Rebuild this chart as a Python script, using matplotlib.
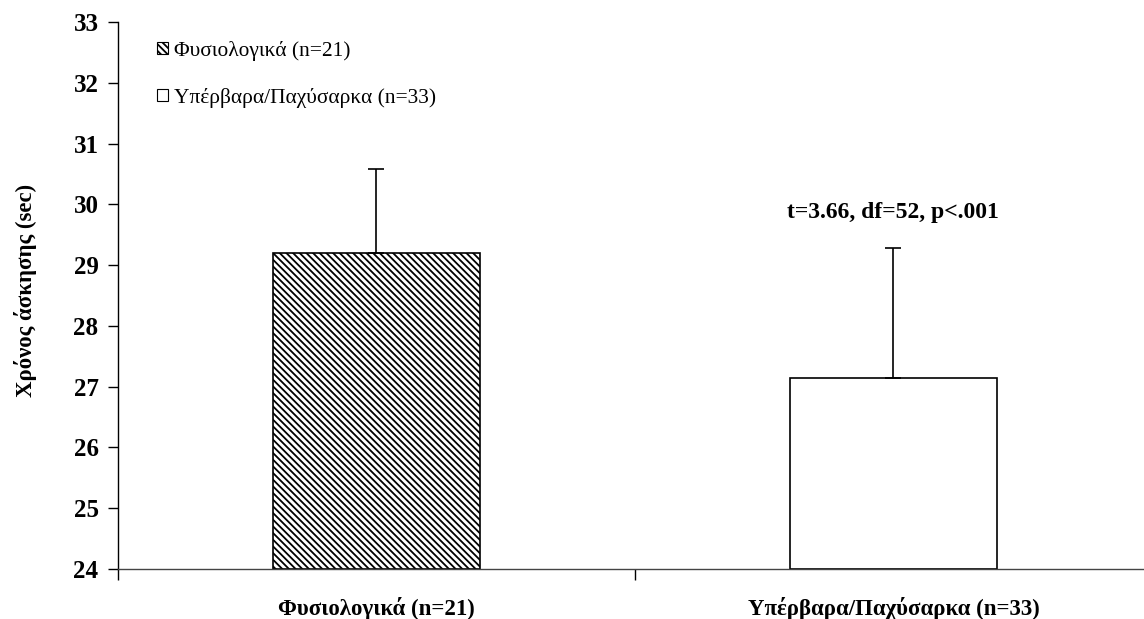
import matplotlib
matplotlib.use("Agg")
import matplotlib.pyplot as plt
from matplotlib.patches import Patch

plt.rcParams['font.family'] = ['Liberation Serif', 'DejaVu Serif']
plt.rcParams['hatch.linewidth'] = 1.3

categories = ["Φυσιολογικά (n=21)", "Υπέρβαρα/Παχύσαρκα (n=33)"]
means = [29.2, 27.15]
sd_upper = [1.38, 2.13]
y_ticks = [24, 25, 26, 27, 28, 29, 30, 31, 32, 33]
annotation = "t=3.66, df=52, p<.001"
ylabel = "Χρόνος άσκησης (sec)"

HATCH = '\\' * 5

fig = plt.figure(figsize=(11.44, 6.19), dpi=100)
ax = fig.add_axes([0.1031, 0.0808, 0.9038, 0.8837])

x = list(range(len(categories)))
bars = ax.bar(x, [m - 24 for m in means], bottom=24, width=0.40,
              color='white', edgecolor='black', linewidth=1.2)
bars[0].set_hatch(HATCH)
ax.errorbar(x, means, yerr=[[0, 0], sd_upper], fmt='none', ecolor='black',
            elinewidth=1.2, capsize=6, capthick=1.2)

ax.set_xlim(-0.5, 1.5)
ax.set_ylim(24, 33)
ax.set_yticks(y_ticks)
ax.set_yticklabels([str(v) for v in y_ticks], fontsize=18, fontweight='bold')
ax.set_xticks(x)
ax.set_xticklabels(categories, fontsize=16.5, fontweight='bold')
ax.tick_params(axis='x', which='major', length=0, pad=20)
ax.set_xticks([-0.5, 0.5, 1.5], minor=True)
ax.tick_params(axis='x', which='minor', length=8, width=1, direction='out')
ax.tick_params(axis='y', length=7, width=1, direction='out', pad=7)

for s in ['top', 'right']:
    ax.spines[s].set_visible(False)
ax.spines['left'].set_linewidth(1)
ax.spines['bottom'].set_linewidth(1)
ax.spines['bottom'].set_color('#444444')

ax.set_ylabel(ylabel, fontsize=16.5, fontweight='bold')
ax.yaxis.set_label_coords(-0.078, 0.51)

ax.text(1, 29.87, annotation, ha='center', va='center', fontsize=17, fontweight='bold')

handles = [Patch(facecolor='white', edgecolor='black', hatch=HATCH, linewidth=0.8),
           Patch(facecolor='white', edgecolor='black', linewidth=0.8)]
ax.legend(handles, categories, loc='upper left', bbox_to_anchor=(0.019, 1.0005),
          frameon=False, fontsize=15.4, handlelength=0.5, handleheight=0.5,
          handletextpad=0.3, labelspacing=1.25)

fig.savefig('out.png', dpi=100)
